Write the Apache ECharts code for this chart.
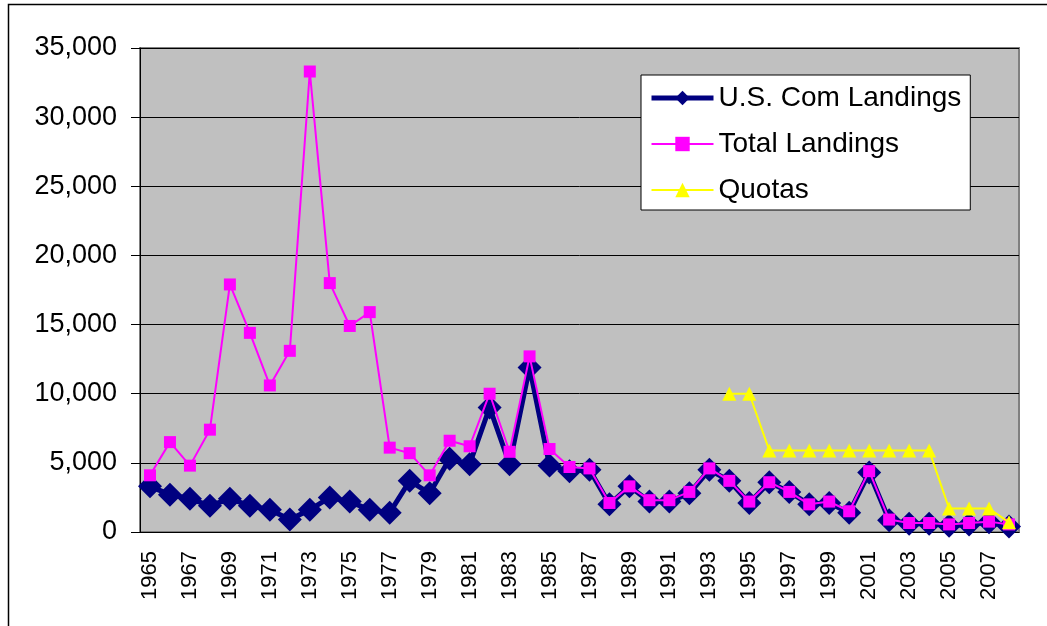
<!DOCTYPE html>
<html>
<head>
<meta charset="utf-8">
<title>Landings and Quotas</title>
<script src="https://cdn.jsdelivr.net/npm/echarts@6/dist/echarts.min.js"></script>
<style>
  html, body { margin: 0; padding: 0; background: #fff; }
  #chart { width: 1047px; height: 626px; }
</style>
</head>
<body>
<div id="chart"></div>
<script>
// Years on the horizontal axis
const years = [];
for (let y = 1965; y <= 2008; y++) years.push(String(y));

// U.S. commercial landings
const usComLandings = [
  3300, 2700, 2400, 1900, 2400, 1900, 1600, 900, 1600, 2500,
  2200, 1600, 1400, 3700, 2800, 5300, 4900, 9000, 4900, 11900,
  4800, 4400, 4500, 2000, 3300, 2200, 2200, 2800, 4500, 3700,
  2100, 3600, 2900, 2000, 2100, 1400, 4300, 850, 600, 600,
  450, 550, 700, 400
];

// Total landings
const totalLandings = [
  4100, 6500, 4800, 7400, 17900, 14400, 10600, 13100, 33300, 18000,
  14900, 15900, 6100, 5700, 4100, 6600, 6200, 10000, 5800, 12700,
  6000, 4700, 4600, 2100, 3300, 2300, 2300, 2900, 4600, 3700,
  2200, 3600, 2900, 2000, 2200, 1500, 4400, 900, 650, 650,
  550, 650, 750, 550
];

// Quotas (set from 1994 onward)
const quotas = [
  null, null, null, null, null, null, null, null, null, null,
  null, null, null, null, null, null, null, null, null, null,
  null, null, null, null, null, null, null, null, null, 10000,
  10000, 5900, 5900, 5900, 5900, 5900, 5900, 5900, 5900, 5900,
  1700, 1700, 1700, 700
];

const yTicks = { min: 0, max: 35000, interval: 5000 };

const font = "'Liberation Sans', Arial, sans-serif";
const chart = echarts.init(document.getElementById('chart'));

chart.setOption({
  animation: false,
  backgroundColor: '#ffffff',
  textStyle: { fontFamily: font },
  graphic: [{
    type: 'rect',
    silent: true,
    shape: { x: 8.5, y: 4.5, width: 1100, height: 700 },
    style: { fill: 'none', stroke: '#000', lineWidth: 1.5 },
    z: 100
  }],
  grid: {
    left: 140, top: 48, right: 28, bottom: 94,
    show: true,
    backgroundColor: '#C0C0C0',
    borderColor: '#808080',
    borderWidth: 2
  },
  legend: {
    left: 641, top: 75,
    orient: 'vertical',
    backgroundColor: '#ffffff',
    borderColor: '#000',
    borderWidth: 1,
    padding: [9, 9, 6, 8],
    itemWidth: 62,
    itemHeight: 18,
    itemGap: 18,
    textStyle: { fontFamily: font, fontSize: 28, color: '#000' },
    data: [
      { name: 'U.S. Com Landings', lineStyle: { width: 5 } },
      { name: 'Total Landings', lineStyle: { width: 2 } },
      { name: 'Quotas', lineStyle: { width: 2 } }
    ]
  },
  xAxis: {
    type: 'category',
    data: years,
    boundaryGap: true,
    axisLine: { lineStyle: { color: '#000', width: 1 } },
    axisTick: { interval: 0, length: 6, lineStyle: { color: '#000' } },
    axisLabel: {
      interval: 1,
      rotate: 90,
      margin: 19,
      fontSize: 22,
      color: '#000',
      fontFamily: font
    },
    splitLine: { show: false }
  },
  yAxis: {
    type: 'value',
    min: yTicks.min,
    max: yTicks.max,
    interval: yTicks.interval,
    axisLine: { show: true, lineStyle: { color: '#000', width: 1 } },
    axisTick: { show: true, length: 9, lineStyle: { color: '#000' } },
    axisLabel: {
      margin: 23,
      fontSize: 27,
      color: '#000',
      fontFamily: font,
      formatter: v => v.toLocaleString('en-US')
    },
    splitLine: { show: true, lineStyle: { color: '#000', width: 1 } }
  },
  series: [
    {
      name: 'U.S. Com Landings',
      type: 'line',
      data: usComLandings,
      symbol: 'diamond',
      symbolSize: 24,
      showAllSymbol: true,
      lineStyle: { color: '#000080', width: 5 },
      itemStyle: { color: '#000080' },
      z: 2
    },
    {
      name: 'Total Landings',
      type: 'line',
      data: totalLandings,
      symbol: 'rect',
      symbolSize: 12,
      showAllSymbol: true,
      lineStyle: { color: '#FF00FF', width: 2 },
      itemStyle: { color: '#FF00FF' },
      z: 3
    },
    {
      name: 'Quotas',
      type: 'line',
      data: quotas,
      symbol: 'triangle',
      symbolSize: 14,
      showAllSymbol: true,
      connectNulls: false,
      lineStyle: { color: '#FFFF00', width: 2 },
      itemStyle: { color: '#FFFF00' },
      z: 4
    }
  ]
});
</script>
</body>
</html>
